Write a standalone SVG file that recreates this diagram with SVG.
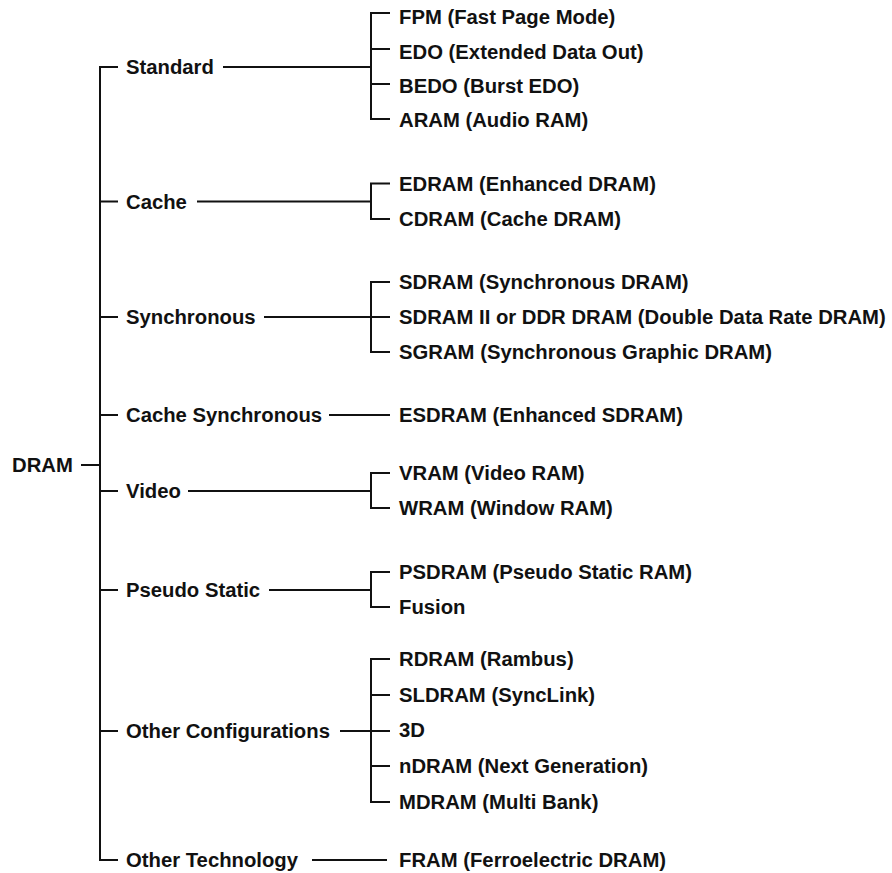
<svg xmlns="http://www.w3.org/2000/svg" width="892" height="873" viewBox="0 0 892 873">
<style>
text{font-family:"Liberation Sans",Arial,sans-serif;font-weight:bold;font-size:20.3px;fill:#111}
.c{fill:none;stroke:#111;stroke-width:2}
</style>
<rect width="892" height="873" fill="#fff"/>
<g id="connectors" class="c">
<path d="M81 465H100M118 67H100V860H118M100 201.5H118M100 317H118M100 415H118M100 491H118M100 590H118M100 731H118"/>
<path d="M223 67H371M390 13H371V119H390M371 49H390M371 84H390"/>
<path d="M197 201.5H371M390 183.5H371V219H390"/>
<path d="M264 317H390M390 282H371V352H390"/>
<path d="M329 415H390"/>
<path d="M188 491H371M390 473H371V508H390"/>
<path d="M269 590H371M390 572H371V607H390"/>
<path d="M340 731H390M390 659H371V802H390M371 695H390M371 766H390"/>
<path d="M312 860H387"/>
</g>
<g id="n-dram"><text x="12" y="472">DRAM</text></g>
<g id="n-standard"><text x="126" y="74">Standard</text></g>
<g id="n-cache"><text x="126" y="208.5">Cache</text></g>
<g id="n-synchronous"><text x="126" y="324">Synchronous</text></g>
<g id="n-cachesync"><text x="126" y="422">Cache Synchronous</text></g>
<g id="n-video"><text x="126" y="498">Video</text></g>
<g id="n-pseudo"><text x="126" y="597">Pseudo Static</text></g>
<g id="n-otherconf"><text x="126" y="738">Other Configurations</text></g>
<g id="n-othertech"><text x="126" y="867">Other Technology</text></g>
<g id="n-fpm"><text x="399" y="24">FPM (Fast Page Mode)</text></g>
<g id="n-edo"><text x="399" y="59">EDO (Extended Data Out)</text></g>
<g id="n-bedo"><text x="399" y="93">BEDO (Burst EDO)</text></g>
<g id="n-aram"><text x="399" y="127">ARAM (Audio RAM)</text></g>
<g id="n-edram"><text x="399" y="191">EDRAM (Enhanced DRAM)</text></g>
<g id="n-cdram"><text x="399" y="226">CDRAM (Cache DRAM)</text></g>
<g id="n-sdram"><text x="399" y="289">SDRAM (Synchronous DRAM)</text></g>
<g id="n-ddr"><text x="399" y="324">SDRAM II or DDR DRAM (Double Data Rate DRAM)</text></g>
<g id="n-sgram"><text x="399" y="359">SGRAM (Synchronous Graphic DRAM)</text></g>
<g id="n-esdram"><text x="399" y="422">ESDRAM (Enhanced SDRAM)</text></g>
<g id="n-vram"><text x="399" y="480">VRAM (Video RAM)</text></g>
<g id="n-wram"><text x="399" y="515">WRAM (Window RAM)</text></g>
<g id="n-psdram"><text x="399" y="579">PSDRAM (Pseudo Static RAM)</text></g>
<g id="n-fusion"><text x="399" y="614">Fusion</text></g>
<g id="n-rdram"><text x="399" y="666">RDRAM (Rambus)</text></g>
<g id="n-sldram"><text x="399" y="702">SLDRAM (SyncLink)</text></g>
<g id="n-3d"><text x="399" y="737">3D</text></g>
<g id="n-ndram"><text x="399" y="773">nDRAM (Next Generation)</text></g>
<g id="n-mdram"><text x="399" y="809">MDRAM (Multi Bank)</text></g>
<g id="n-fram"><text x="399" y="867">FRAM (Ferroelectric DRAM)</text></g>
</svg>
